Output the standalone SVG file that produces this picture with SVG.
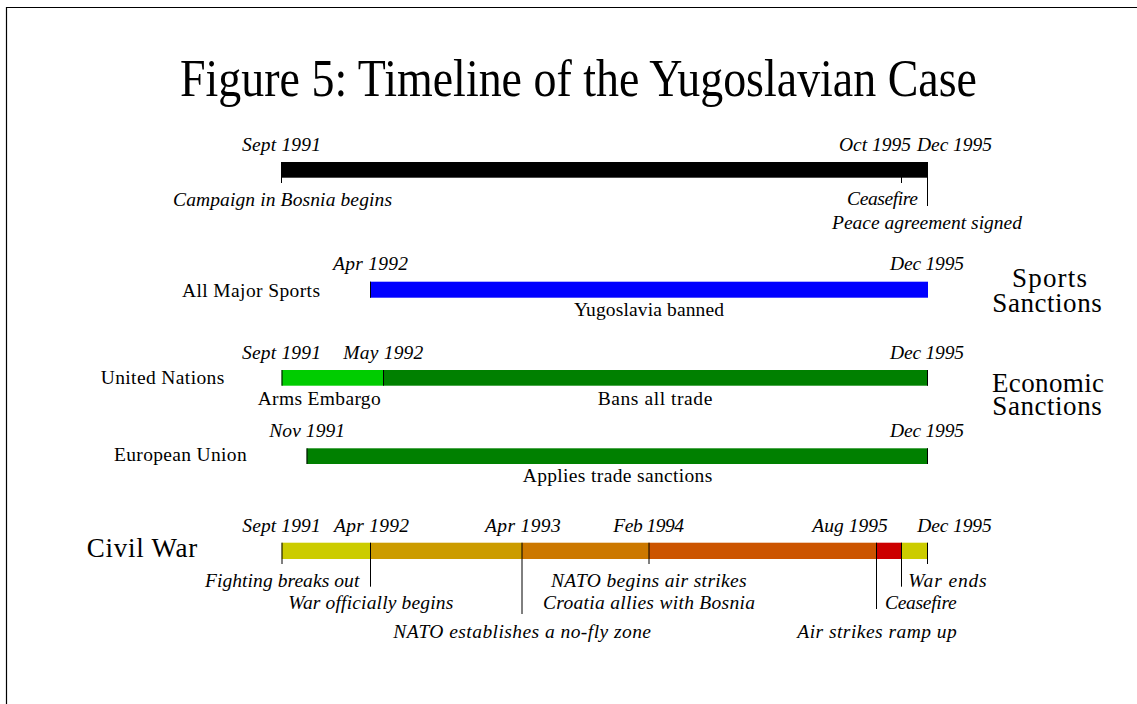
<svg xmlns="http://www.w3.org/2000/svg" width="1137" height="704" viewBox="0 0 1137 704">
<style>
text{font-family:"Liberation Serif","Times New Roman",serif;fill:#000}
.d{font-size:19.5px;font-style:italic}
.u{font-size:19.5px}
.b{font-size:27px}
.t{font-size:46px}
.tk{stroke:#000;stroke-width:1;fill:none}
</style>
<rect width="1137" height="704" fill="#fff"/>
<path d="M6.5 704V7.5H1137" fill="none" stroke="#000" stroke-width="1.2"/>
<g id="title"><text class="t" transform="translate(180 96) scale(1 1.15)" textLength="797" lengthAdjust="spacingAndGlyphs">Figure 5: Timeline of the Yugoslavian Case</text></g>

<g id="campaign">
<rect x="281" y="162" width="647" height="15.7" fill="#000"/>
<text class="d" x="242" y="151" textLength="79">Sept 1991</text>
<text class="d" x="839" y="151" textLength="72">Oct 1995</text>
<text class="d" x="917" y="151" textLength="75">Dec 1995</text>
<text class="d" x="173" y="205.5" textLength="219">Campaign in Bosnia begins</text>
<text class="d" x="847" y="205" textLength="71">Ceasefire</text>
<text class="d" x="832" y="229" textLength="190">Peace agreement signed</text>
</g>

<g id="sports">
<rect x="370" y="281.7" width="558" height="16" fill="#0000ff"/>
<text class="d" x="333" y="270" textLength="75">Apr 1992</text>
<text class="d" x="890" y="270" textLength="74">Dec 1995</text>
<text class="u" x="182" y="297" textLength="138">All Major Sports</text>
<text class="u" x="574" y="316" textLength="150">Yugoslavia banned</text>
</g>
<g id="sports-label">
<text class="b"><tspan x="1012" y="286.7" textLength="75">Sports</tspan><tspan x="992.3" y="311.7" textLength="109.4">Sanctions</tspan></text>
</g>

<g id="un">
<rect x="281.7" y="370" width="101.6" height="15.7" fill="#00cc00"/>
<rect x="383.3" y="370" width="544.7" height="15.7" fill="#008000"/>
<text class="d" x="242" y="359" textLength="79">Sept 1991</text>
<text class="d" x="343.3" y="359" textLength="80">May 1992</text>
<text class="d" x="890" y="359" textLength="74">Dec 1995</text>
<text class="u" x="100.7" y="384" textLength="123.6">United Nations</text>
<text class="u" x="257.7" y="405" textLength="123">Arms Embargo</text>
<text class="u" x="597.7" y="405" textLength="114.6">Bans all trade</text>
</g>
<g id="economic-label">
<text class="b"><tspan x="992" y="392" textLength="112">Economic</tspan><tspan x="992.3" y="415" textLength="109.4">Sanctions</tspan></text>
</g>

<g id="eu">
<rect x="306.7" y="448.3" width="621.3" height="15.7" fill="#008000"/>
<text class="d" x="269.3" y="437" textLength="75.7">Nov 1991</text>
<text class="d" x="890" y="437" textLength="74">Dec 1995</text>
<text class="u" x="114" y="460.7" textLength="132.7">European Union</text>
<text class="u" x="522.7" y="482" textLength="189.6">Applies trade sanctions</text>
</g>

<g id="civil-war">
<rect x="281.7" y="542.7" width="88.6" height="16.3" fill="#cccc00"/>
<rect x="370.3" y="542.7" width="151.7" height="16.3" fill="#cc9c00"/>
<rect x="522" y="542.7" width="127" height="16.3" fill="#cc7800"/>
<rect x="649" y="542.7" width="227.5" height="16.3" fill="#cc5400"/>
<rect x="876.5" y="542.7" width="25.2" height="16.3" fill="#cc0000"/>
<rect x="901.7" y="542.7" width="26" height="16.3" fill="#cccc00"/>
<text class="b" x="86.7" y="556.7" textLength="110.6">Civil War</text>
<text class="d" x="242.3" y="531.7" textLength="78.4">Sept 1991</text>
<text class="d" x="334" y="531.7" textLength="75">Apr 1992</text>
<text class="d" x="485" y="531.7" textLength="75.7">Apr 1993</text>
<text class="d" x="613.3" y="531.7" textLength="70.7">Feb 1994</text>
<text class="d" x="812.3" y="531.7" textLength="75.4">Aug 1995</text>
<text class="d" x="917.3" y="531.7" textLength="74.4">Dec 1995</text>
<text class="d" x="205" y="586.7" textLength="154.3">Fighting breaks out</text>
<text class="d" x="288.3" y="609" textLength="165">War officially begins</text>
<text class="d" x="393.3" y="637.5" textLength="257.7">NATO establishes a no-fly zone</text>
<text class="d" x="551" y="586.7" textLength="195.7">NATO begins air strikes</text>
<text class="d" x="543" y="609" textLength="212">Croatia allies with Bosnia</text>
<text class="d" x="908.3" y="586.7" textLength="78.4">War ends</text>
<text class="d" x="885" y="609" textLength="71.7">Ceasefire</text>
<text class="d" x="797.3" y="637.5" textLength="159.4">Air strikes ramp up</text>
</g>

<g id="connectors">
<path class="tk" d="M281.5 162V183M901.5 177V183M927.5 162V206"/>
<path class="tk" d="M370.5 281.7V297.7"/>
<path class="tk" d="M282 370V385.7M383.5 370V385.7M927.5 370V385.7"/>
<path class="tk" d="M307 448.3V464M927.5 448.3V464"/>
<path class="tk" d="M282 542.7V564M370.5 542.7V586.7M522 542.7V614M649 542.7V564M876.5 542.7V609M901.5 542.7V586.7M927.5 542.7V564"/>
</g>
</svg>
